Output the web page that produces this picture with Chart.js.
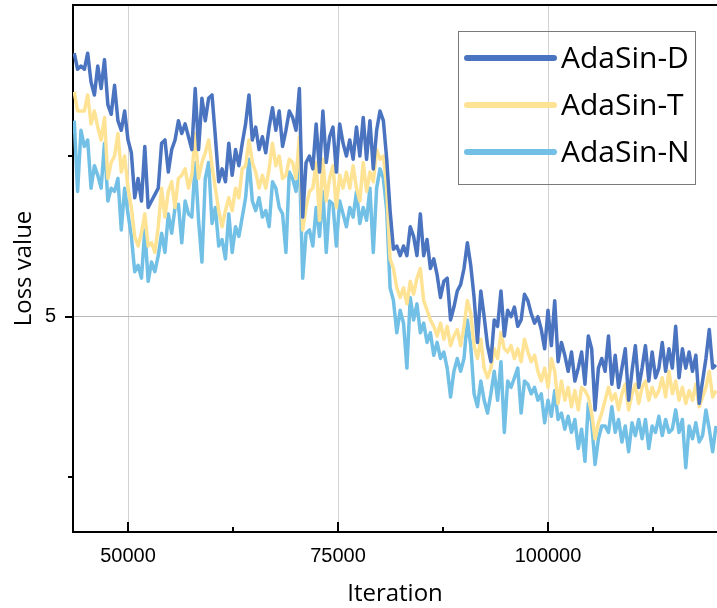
<!DOCTYPE html>
<html lang="en">
<head>
<meta charset="UTF-8">
<title>Loss value by iteration</title>
<script src="https://cdn.jsdelivr.net/npm/chart.js"></script>
<style>
    body { margin: 0; background: #fff; }
    canvas { display: block; }
</style>
</head>
<body>
<canvas id="lossChart" width="717" height="608"></canvas>
<script>
// iterations (x) shared by all three curves
const iterations = [
    43600,44000,44400,44800,45200,45600,46000,46400,46800,47200,
    47600,48000,48400,48800,49200,49600,50000,50400,50800,51200,
    51600,52000,52400,52800,53200,53600,54000,54400,54800,55200,
    55600,56000,56400,56800,57200,57600,58000,58400,58800,59200,
    59600,60000,60400,60800,61200,61600,62000,62400,62800,63200,
    63600,64000,64400,64800,65200,65600,66000,66400,66800,67200,
    67600,68000,68400,68800,69200,69600,70000,70400,70800,71200,
    71600,72000,72400,72800,73200,73600,74000,74400,74800,75200,
    75600,76000,76400,76800,77200,77600,78000,78400,78800,79200,
    79600,80000,80400,80800,81200,81600,82000,82400,82800,83200,
    83600,84000,84400,84800,85200,85600,86000,86400,86800,87200,
    87600,88000,88400,88800,89200,89600,90000,90400,90800,91200,
    91600,92000,92400,92800,93200,93600,94000,94400,94800,95200,
    95600,96000,96400,96800,97200,97600,98000,98400,98800,99200,
    99600,100000,100400,100800,101200,101600,102000,102400,102800,103200,
    103600,104000,104400,104800,105200,105600,106000,106400,106800,107200,
    107600,108000,108400,108800,109200,109600,110000,110400,110800,111200,
    111600,112000,112400,112800,113200,113600,114000,114400,114800,115200,
    115600,116000,116400,116800,117200,117600,118000,118400,118800,119200,
    119600,120000
];

const lossD = [
    5.82,5.77,5.78,5.77,5.82,5.73,5.69,5.78,5.71,5.80,
    5.66,5.63,5.72,5.61,5.58,5.64,5.55,5.51,5.37,5.43,
    5.36,5.53,5.34,5.36,5.38,5.40,5.54,5.55,5.45,5.52,
    5.55,5.61,5.57,5.60,5.56,5.52,5.71,5.52,5.68,5.61,
    5.68,5.69,5.56,5.42,5.46,5.42,5.54,5.44,5.52,5.47,
    5.54,5.60,5.69,5.55,5.59,5.52,5.56,5.51,5.59,5.65,
    5.58,5.64,5.53,5.58,5.64,5.62,5.58,5.71,5.31,5.48,
    5.50,5.46,5.60,5.45,5.64,5.48,5.56,5.59,5.45,5.60,
    5.54,5.50,5.55,5.49,5.59,5.50,5.62,5.49,5.61,5.46,
    5.58,5.64,5.61,5.49,5.33,5.21,5.22,5.19,5.22,5.19,
    5.28,5.25,5.19,5.32,5.19,5.24,5.15,5.18,5.13,5.06,
    5.11,5.12,4.99,5.03,5.08,5.10,5.15,5.23,5.16,5.06,
    4.92,5.08,5.00,4.91,4.86,4.99,4.97,5.08,4.94,5.02,
    5.00,5.03,4.97,4.99,5.07,5.05,5.01,4.98,5.00,4.96,
    4.90,5.02,4.91,5.05,4.86,4.92,4.88,4.83,4.89,4.80,
    4.84,4.89,4.79,4.94,4.90,4.71,4.84,4.87,4.83,4.94,
    4.79,4.88,4.78,4.84,4.90,4.74,4.83,4.91,4.78,4.84,
    4.91,4.80,4.89,4.81,4.84,4.92,4.83,4.90,4.84,4.97,
    4.81,4.90,4.84,4.89,4.83,4.88,4.73,4.80,4.87,4.96,
    4.84,4.85
];

const lossT = [
    5.70,5.64,5.64,5.64,5.69,5.60,5.64,5.59,5.55,5.62,
    5.43,5.48,5.50,5.57,5.45,5.50,5.40,5.34,5.25,5.22,
    5.26,5.32,5.22,5.23,5.20,5.28,5.40,5.31,5.39,5.42,
    5.34,5.43,5.44,5.46,5.40,5.44,5.57,5.43,5.48,5.51,
    5.55,5.47,5.40,5.33,5.28,5.33,5.37,5.33,5.40,5.37,
    5.46,5.47,5.55,5.48,5.45,5.40,5.44,5.40,5.46,5.54,
    5.47,5.50,5.43,5.44,5.49,5.48,5.43,5.56,5.27,5.34,
    5.39,5.40,5.48,5.30,5.49,5.36,5.43,5.47,5.34,5.44,
    5.40,5.45,5.40,5.47,5.40,5.36,5.48,5.39,5.45,5.42,
    5.52,5.49,5.50,5.40,5.18,5.15,5.09,5.06,5.09,5.04,
    5.11,5.07,5.12,5.15,5.05,5.02,4.99,4.97,4.94,4.98,
    4.93,4.97,4.91,4.94,4.96,4.91,4.97,5.05,5.01,4.91,
    4.87,4.93,4.84,4.81,4.84,4.90,4.87,4.95,4.90,4.89,
    4.91,4.87,4.90,4.86,4.93,4.89,4.86,4.88,4.83,4.80,
    4.84,4.78,4.87,4.83,4.73,4.80,4.74,4.78,4.72,4.77,
    4.71,4.78,4.77,4.75,4.70,4.62,4.67,4.70,4.74,4.78,
    4.74,4.76,4.71,4.76,4.79,4.71,4.76,4.79,4.73,4.78,
    4.80,4.74,4.78,4.75,4.77,4.81,4.75,4.83,4.76,4.80,
    4.74,4.78,4.73,4.77,4.74,4.79,4.72,4.75,4.78,4.83,
    4.75,4.77
];

const lossN = [
    5.61,5.39,5.58,5.53,5.55,5.40,5.47,5.44,5.40,5.54,
    5.36,5.40,5.39,5.43,5.27,5.40,5.32,5.25,5.14,5.16,
    5.12,5.27,5.11,5.17,5.14,5.19,5.26,5.20,5.32,5.26,
    5.34,5.35,5.23,5.36,5.32,5.31,5.48,5.30,5.17,5.43,
    5.48,5.29,5.34,5.22,5.24,5.18,5.32,5.20,5.28,5.25,
    5.31,5.37,5.49,5.36,5.33,5.37,5.31,5.33,5.28,5.42,
    5.40,5.34,5.32,5.20,5.45,5.43,5.39,5.49,5.12,5.26,
    5.27,5.22,5.34,5.25,5.39,5.20,5.36,5.35,5.22,5.36,
    5.32,5.28,5.34,5.31,5.39,5.29,5.34,5.30,5.40,5.20,
    5.40,5.46,5.43,5.33,5.09,5.05,4.95,5.02,4.98,4.84,
    5.06,4.99,5.04,4.95,4.98,4.92,4.95,4.88,4.92,4.87,
    4.89,4.84,4.75,4.83,4.87,4.83,4.87,4.99,4.91,4.76,
    4.72,4.80,4.74,4.70,4.76,4.83,4.74,4.86,4.64,4.80,
    4.78,4.81,4.84,4.70,4.80,4.79,4.76,4.78,4.74,4.76,
    4.67,4.74,4.69,4.77,4.68,4.70,4.65,4.69,4.64,4.68,
    4.59,4.65,4.55,4.73,4.67,4.54,4.62,4.66,4.66,4.64,
    4.72,4.64,4.68,4.61,4.66,4.58,4.67,4.63,4.68,4.62,
    4.68,4.59,4.66,4.64,4.69,4.63,4.68,4.64,4.65,4.71,
    4.64,4.68,4.53,4.66,4.62,4.67,4.61,4.63,4.71,4.65,
    4.58,4.66
];

const seriesNames = ["AdaSin-D", "AdaSin-T", "AdaSin-N"];
const seriesColors = ["#4a73c0", "#ffe394", "#72c0e6"];
const xTickValues = [50000, 62500, 75000, 87500, 100000, 112500];
const xTickLabels = [50000, 75000, 100000];   // labelled ones, the rest are minor ticks
const yTickValues = [4.5, 5, 5.5];
const yTickLabels = [5];

function toPoints(values) {
    return iterations.map((it, i) => ({ x: it, y: values[i] }));
}

// inward x ticks, outward y ticks, and the top frame line
const frameTicks = {
    id: "frameTicks",
    afterDraw(chart) {
        const { ctx, chartArea, scales } = chart;
        ctx.save();
        ctx.strokeStyle = "#000";
        ctx.lineWidth = 2;
        ctx.beginPath();
        ctx.moveTo(chartArea.left - 1, chartArea.top);
        ctx.lineTo(chartArea.right, chartArea.top);
        ctx.stroke();
        scales.x.ticks.forEach(t => {
            const px = Math.round(scales.x.getPixelForValue(t.value));
            const len = xTickLabels.includes(t.value) ? 10 : 5;
            ctx.beginPath();
            ctx.moveTo(px, chartArea.bottom);
            ctx.lineTo(px, chartArea.bottom - len);
            ctx.stroke();
        });
        scales.y.ticks.forEach(t => {
            const py = Math.round(scales.y.getPixelForValue(t.value));
            const len = yTickLabels.includes(t.value) ? 8 : 5;
            ctx.beginPath();
            ctx.moveTo(chartArea.left, py);
            ctx.lineTo(chartArea.left - len, py);
            ctx.stroke();
        });
        ctx.restore();
    }
};

// boxed legend inside the plot, top right
const boxLegend = {
    id: "boxLegend",
    afterDraw(chart) {
        const ctx = chart.ctx;
        const box = { left: 458, top: 31, width: 237, height: 153 };
        ctx.save();
        ctx.strokeStyle = "#7a7a7a";
        ctx.lineWidth = 1;
        ctx.strokeRect(box.left + 0.5, box.top + 0.5, box.width, box.height);
        chart.data.datasets.forEach((ds, i) => {
            const cy = box.top + 27 + i * 47;
            ctx.strokeStyle = ds.borderColor;
            ctx.lineWidth = 6;
            ctx.lineCap = "round";
            ctx.beginPath();
            ctx.moveTo(box.left + 9, cy);
            ctx.lineTo(box.left + 96, cy);
            ctx.stroke();
            ctx.fillStyle = "#000";
            ctx.font = '30px "Open Sans"';
            ctx.textBaseline = "middle";
            ctx.fillText(ds.label, box.left + 103, cy + 1);
        });
        ctx.restore();
    }
};

const ctx = document.getElementById("lossChart").getContext("2d");
new Chart(ctx, {
    type: "line",
    data: {
        datasets: [lossD, lossT, lossN].map((vals, i) => ({
            label: seriesNames[i],
            data: toPoints(vals),
            borderColor: seriesColors[i],
            borderWidth: 3.5,
            borderJoinStyle: "round",
            pointRadius: 0,
            tension: 0,
            fill: false
        }))
    },
    options: {
        responsive: false,
        animation: false,
        layout: { autoPadding: false, padding: { top: 5, right: 0, bottom: 0, left: 0 } },
        plugins: {
            legend: { display: false },
            tooltip: { enabled: false }
        },
        scales: {
            x: {
                type: "linear",
                min: 43452,
                max: 120119,
                afterFit(scale) {
                    scale.height = 76;
                    scale.paddingLeft = 0;
                    scale.paddingRight = 0;
                },
                afterBuildTicks(scale) { scale.ticks = xTickValues.map(v => ({ value: v })); },
                border: { color: "#000", width: 2 },
                grid: {
                    drawTicks: false,
                    lineWidth: 1,
                    color: c => (c.tick && xTickLabels.includes(c.tick.value)) ? "#d2d2d2" : "rgba(0,0,0,0)"
                },
                ticks: {
                    autoSkip: false,
                    maxRotation: 0,
                    padding: 12,
                    color: "#000",
                    font: { family: "Liberation Sans", size: 20 },
                    callback: v => xTickLabels.includes(v) ? String(v) : ""
                },
                title: {
                    display: true,
                    text: "Iteration",
                    color: "#000",
                    font: { family: "Open Sans", size: 24 },
                    padding: { top: 0, bottom: -1 }
                }
            },
            y: {
                type: "linear",
                min: 4.33,
                max: 5.97,
                afterFit(scale) {
                    scale.width = 73;
                    scale.paddingTop = 0;
                    scale.paddingBottom = 0;
                },
                afterBuildTicks(scale) { scale.ticks = yTickValues.map(v => ({ value: v })); },
                border: { color: "#000", width: 2 },
                grid: {
                    drawTicks: false,
                    lineWidth: 1,
                    color: c => (c.tick && yTickLabels.includes(c.tick.value)) ? "#b8b8b8" : "rgba(0,0,0,0)"
                },
                ticks: {
                    padding: 17,
                    color: "#000",
                    font: { family: "Liberation Sans", size: 20 },
                    callback: v => yTickLabels.includes(v) ? String(v) : ""
                },
                title: {
                    display: true,
                    text: "Loss value",
                    color: "#000",
                    font: { family: "Open Sans", size: 24 },
                    padding: { top: 10, bottom: 0 }
                }
            }
        }
    },
    plugins: [frameTicks, boxLegend]
});
</script>
</body>
</html>
